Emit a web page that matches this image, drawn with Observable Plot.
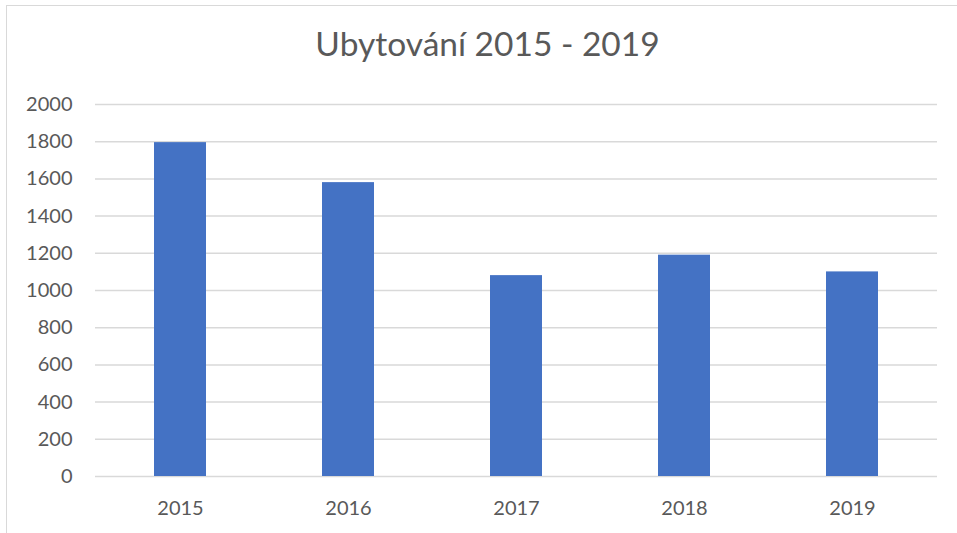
<!DOCTYPE html>
<html>
<head>
<meta charset="utf-8">
<script src="https://cdn.jsdelivr.net/npm/d3@7"></script>
<script src="https://cdn.jsdelivr.net/npm/@observablehq/plot@0.6"></script>
<style>
  html, body { margin: 0; padding: 0; background: #fff; }
  #wrap { position: relative; width: 957px; height: 533px; overflow: hidden; font-family: Lato, sans-serif; }
  #frame { position: absolute; left: 6px; top: 5px; right: -2px; bottom: -2px; border-left: 1.5px solid #d9d9d9; border-top: 1.5px solid #d9d9d9; }
  #title { position: absolute; left: 9px; top: 0; width: 957px; height: 80px; text-align: center; font-size: 33.5px; color: #595959; line-height: 1; padding-top: 27px; box-sizing: border-box; }
  #chart { position: absolute; left: 0; top: 80px; }
</style>
</head>
<body>
<div id="wrap">
  <div id="frame"></div>
  <div id="title">Ubytování 2015 - 2019</div>
  <div id="chart"></div>
</div>
<script>
const years = ["2015", "2016", "2017", "2018", "2019"];
const values = [1795, 1580, 1080, 1190, 1100];
const yTicks = [0, 200, 400, 600, 800, 1000, 1200, 1400, 1600, 1800, 2000];

const data = years.map((y, i) => ({year: y, value: values[i]}));

const plot = Plot.plot({
  width: 957,
  height: 453,
  marginLeft: 95,
  marginRight: 20,
  marginTop: 24,
  marginBottom: 57,
  style: {fontFamily: "Lato, sans-serif", fontSize: "20px", color: "#595959", background: "transparent"},
  x: {domain: years, paddingInner: 0.69, paddingOuter: 0.345, label: null},
  y: {domain: [0, 2000], label: null},
  marks: [
    Plot.gridY(yTicks, {stroke: "#d9d9d9", strokeOpacity: 1, strokeWidth: 1.5}),
    Plot.barY(data, {x: "year", y: "value", fill: "#4472C4"}),
    Plot.axisY(yTicks, {tickSize: 0, tickPadding: 23, tickFormat: d3.format("d"), fill: "#595959", fontSize: 20, label: null}),
    Plot.axisX({tickSize: 0, tickPadding: 24, fill: "#595959", fontSize: 20, label: null})
  ]
});
document.getElementById("chart").appendChild(plot);
</script>
</body>
</html>
